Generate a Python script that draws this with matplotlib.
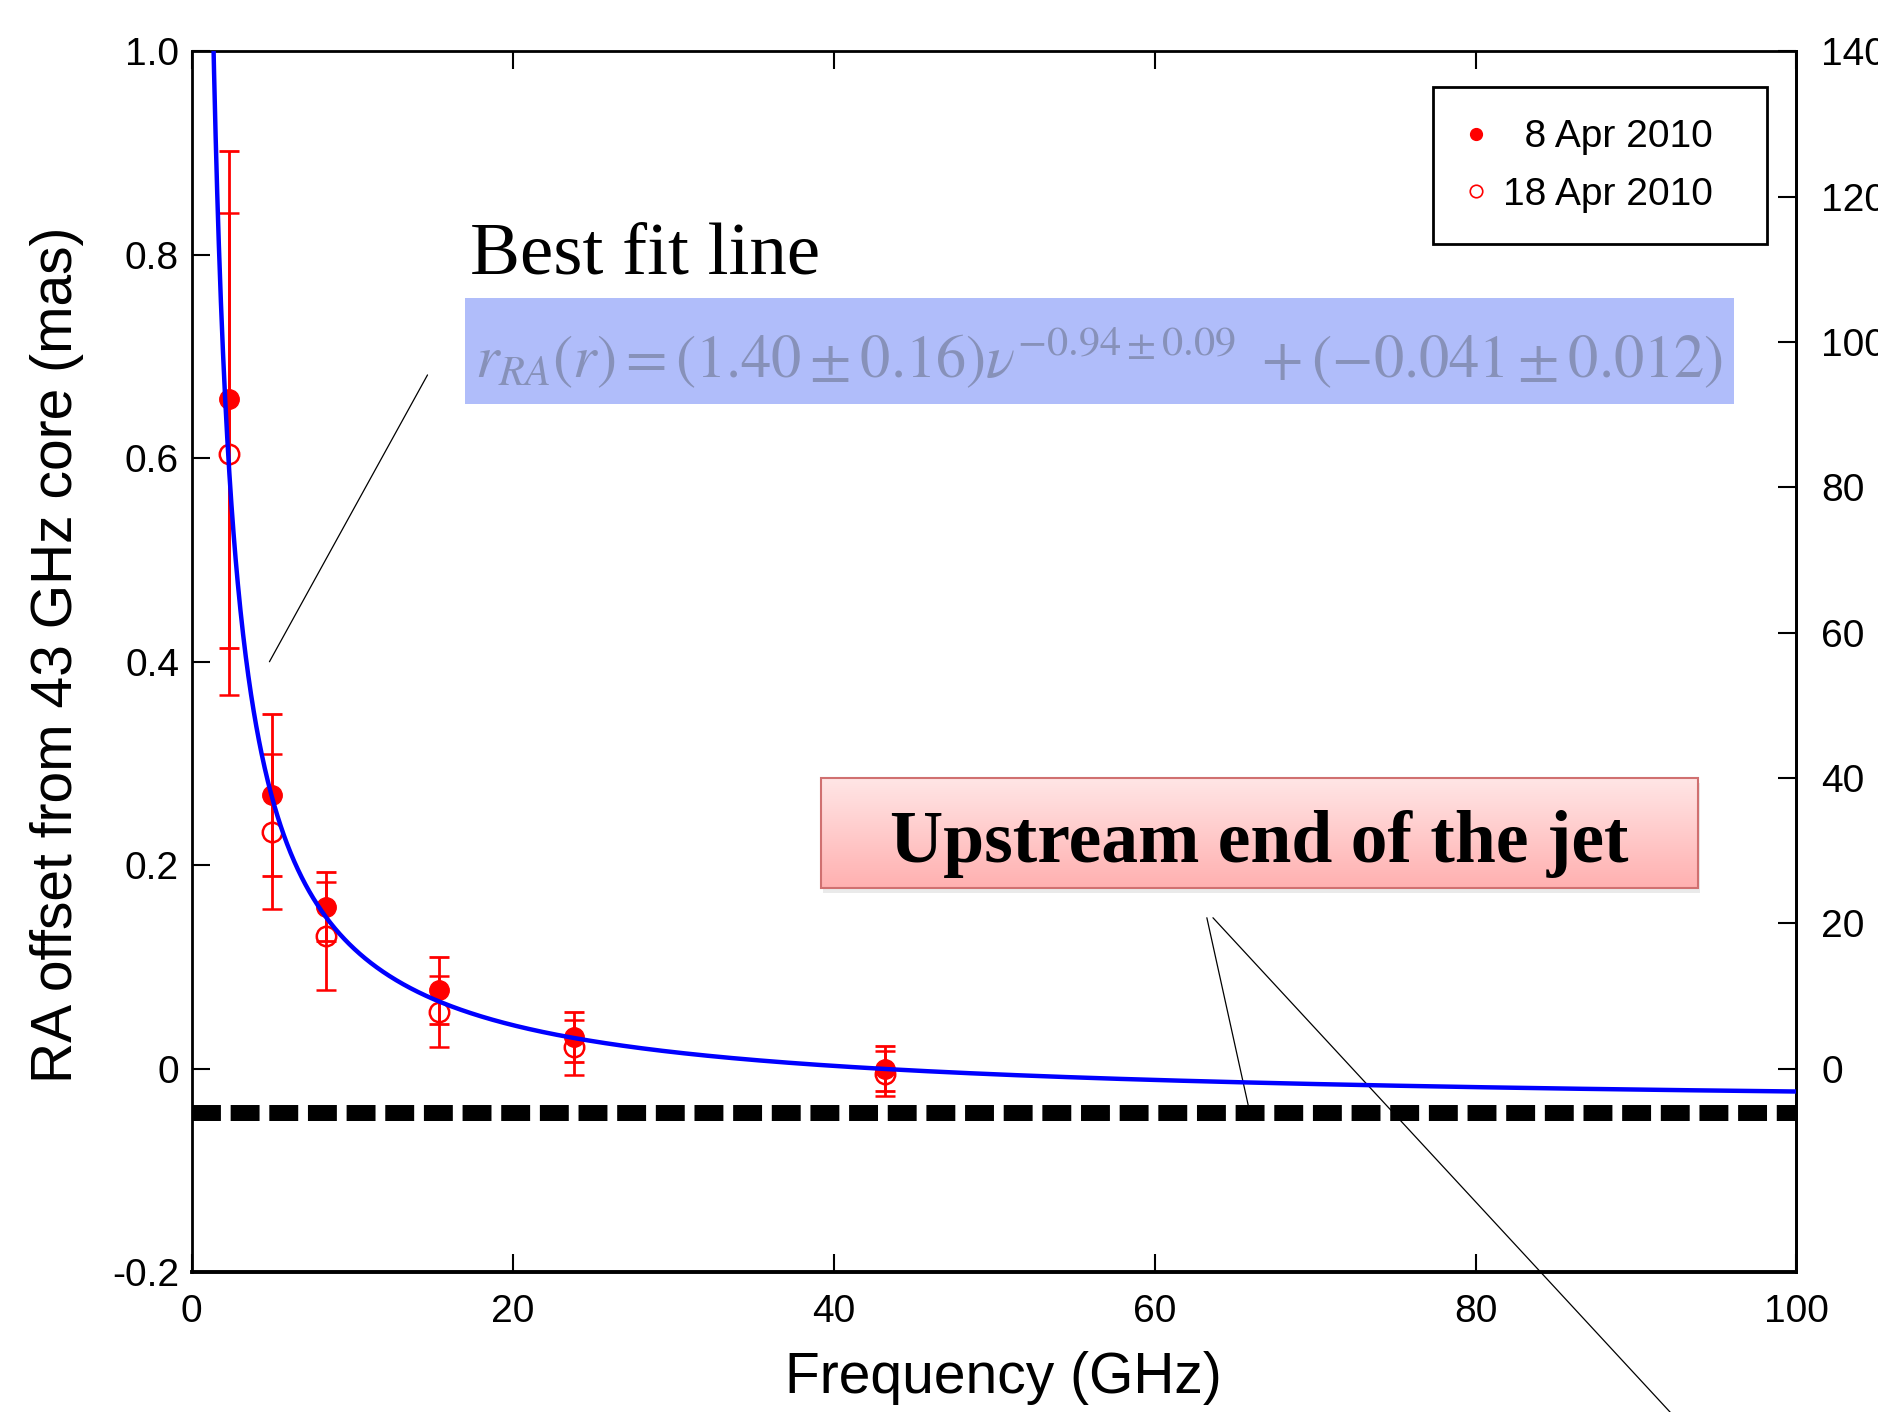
import numpy as np
import matplotlib
matplotlib.use("Agg")
import matplotlib.pyplot as plt
from matplotlib.patches import Rectangle
from matplotlib.lines import Line2D
from matplotlib.colors import LinearSegmentedColormap

# observing frequencies (GHz)
freq = [2.3, 5.0, 8.4, 15.4, 23.8, 43.2]

# RA offset from the 43 GHz core (mas)
ra_apr08 = [0.658, 0.269, 0.159, 0.077, 0.031, 0.000]
err_apr08 = [0.244, 0.080, 0.034, 0.033, 0.025, 0.022]
ra_apr18 = [0.604, 0.233, 0.130, 0.056, 0.021, -0.005]
err_apr18 = [0.237, 0.076, 0.053, 0.035, 0.027, 0.022]

# best fit  r = A * nu^k + c
fit_amp = 1.40
fit_index = -0.94
fit_offset = -0.041
dash_level = -0.044

mas_to_rs = 140.0  # right axis scale

plt.rcParams['font.family'] = ['Liberation Sans', 'DejaVu Sans']
plt.rcParams['mathtext.fontset'] = 'stix'

fig = plt.figure(figsize=(18.78, 14.12), dpi=100)
ax = fig.add_axes([0.10202, 0.09915, 0.85458, 0.86438])

nu = np.linspace(1.3, 100, 3000)
ax.plot(nu, fit_amp * nu**fit_index + fit_offset, color='#0000ff', lw=3.2, zorder=4)

ax.errorbar(freq, ra_apr08, yerr=err_apr08, fmt='o', color='red', ms=14,
            elinewidth=2, capsize=7.5, capthick=2, zorder=3)
ax.errorbar(freq, ra_apr18, yerr=err_apr18, fmt='o', color='red', ms=14, mfc='none',
            mew=1.8, elinewidth=2, capsize=7.5, capthick=2, zorder=3)

ax.axhline(dash_level, color='black', lw=11.5, dashes=(1.81, 0.61), zorder=2)

ax.set_xlim(0, 100)
ax.set_ylim(-0.2, 1.0)
ax.set_xticks([0, 20, 40, 60, 80, 100])
ax.set_yticks([-0.2, 0, 0.2, 0.4, 0.6, 0.8, 1.0])
ax.set_yticklabels(['-0.2', '0', '0.2', '0.4', '0.6', '0.8', '1.0'])
ax.tick_params(direction='in', length=13, width=1.5, labelsize=28, top=True, right=False)
ax.tick_params(axis='x', pad=16)
ax.tick_params(axis='y', pad=9)
for s in ax.spines.values():
    s.set_linewidth(2)
ax.spines['bottom'].set_linewidth(2.8)

sec = ax.secondary_yaxis('right', functions=(lambda v: v * mas_to_rs, lambda v: v / mas_to_rs))
sec.set_yticks(range(0, 141, 20))
sec.tick_params(direction='in', length=13, width=1.5, labelsize=28, pad=18)
sec.spines['right'].set_linewidth(2)

ax.set_xlabel('Frequency (GHz)', fontsize=41, va='top')
ax.xaxis.set_label_coords(0.506, -0.0647)
ax.set_ylabel('RA offset from 43 GHz core (mas)', fontsize=41, va='center')
ax.yaxis.set_label_coords(-0.0836, 0.5055)

# legend
h1 = Line2D([], [], ls='none', marker='o', color='red', ms=8.5)
h2 = Line2D([], [], ls='none', marker='o', mfc='none', mec='red', ms=9, mew=1.2)
leg = ax.legend([h1, h2], ['  8 Apr 2010  ', '18 Apr 2010  '], loc='upper left',
                bbox_to_anchor=(0.7630, 0.9382), bbox_transform=fig.transFigure,
                borderaxespad=0, fontsize=28, fancybox=False, framealpha=1,
                edgecolor='black', handlelength=0.6, handletextpad=0.39,
                borderpad=0.82, labelspacing=0.55)
leg.get_frame().set_linewidth(2)

# best fit label and formula box
ax.text(0.1732, 0.8177, 'Best fit line', transform=ax.transAxes, fontsize=54,
        family='Liberation Serif', va='baseline', zorder=6)
ax.add_patch(Rectangle((0.1703, 0.7112), 0.7907, 0.0869, transform=ax.transAxes,
                       facecolor='#b0bdfa', edgecolor='none', zorder=5))
ax.text(0.5657, 0.7495,
        r'$r_{RA}(r) = (1.40 \pm 0.16)\nu^{-0.94 \pm 0.09}\ + (-0.041 \pm 0.012)$',
        transform=ax.transAxes, fontsize=43.5, color='#8791b9', ha='center', va='center',
        zorder=6)
ax.annotate('', xy=(4.85, 0.40), xytext=(14.70, 0.682),
            arrowprops=dict(arrowstyle='-', lw=0.9, color='black', shrinkA=0, shrinkB=0))

# pink box
x0, y0, w, h = 0.392, 0.3144, 0.5466, 0.0901
ax.add_patch(Rectangle((x0 + 0.0015, y0 - 0.004), w, h, transform=ax.transAxes,
                       facecolor='#999999', alpha=0.2, edgecolor='none', zorder=5))
pink = LinearSegmentedColormap.from_list('pinkgrad', ['#ffb0b0', '#ffe6e6'])
grad = np.linspace(0, 1, 256).reshape(-1, 1)
ax.imshow(grad, cmap=pink, origin='lower', aspect='auto', transform=ax.transAxes,
          extent=(x0, x0 + w, y0, y0 + h), zorder=5.1)
ax.add_patch(Rectangle((x0, y0), w, h, transform=ax.transAxes, facecolor='none',
                       edgecolor='#d07070', lw=1.5, zorder=5.2))
ax.text(0.6651, 0.3359, 'Upstream end of the jet', transform=ax.transAxes, fontsize=53,
        family='Liberation Serif', weight='bold', ha='center', va='baseline', zorder=6)
ax.annotate('', xy=(65.88, -0.0391), xytext=(63.26, 0.1483), annotation_clip=False,
            arrowprops=dict(arrowstyle='-', lw=0.9, color='black', shrinkA=0, shrinkB=0))
ax.annotate('', xy=(92.15, -0.3382), xytext=(63.64, 0.1483), annotation_clip=False,
            arrowprops=dict(arrowstyle='-', lw=0.9, color='black', shrinkA=0, shrinkB=0))

ax.set_xlim(0, 100)
ax.set_ylim(-0.2, 1.0)

fig.savefig('out.png', dpi=100)
